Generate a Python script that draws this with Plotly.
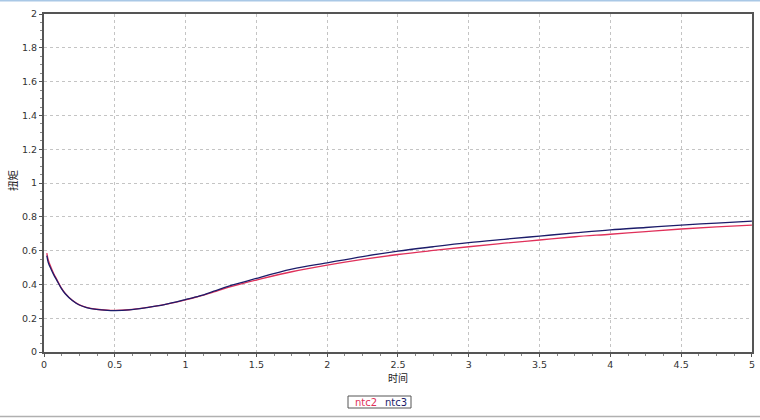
import plotly.graph_objects as go

# ---- data ----
time = [0.02, 0.03, 0.05, 0.07, 0.09, 0.12, 0.15, 0.2, 0.25, 0.3, 0.37, 0.45, 0.5,
        0.6, 0.72, 0.85, 1.0, 1.1, 1.2, 1.3, 1.4, 1.5, 1.75, 2.0, 2.25, 2.5, 2.75,
        3.0, 3.25, 3.5, 3.75, 4.0, 4.25, 4.5, 4.75, 5.0]
ntc2 = [0.585, 0.545, 0.50, 0.462, 0.43, 0.383, 0.347, 0.306, 0.279, 0.264, 0.253,
        0.247, 0.246, 0.25, 0.262, 0.28, 0.308, 0.33, 0.356, 0.382, 0.405, 0.426,
        0.475, 0.514, 0.548, 0.577, 0.601, 0.623, 0.644, 0.663, 0.682, 0.697,
        0.713, 0.728, 0.74, 0.751]
ntc3 = [0.57, 0.53, 0.49, 0.455, 0.425, 0.38, 0.345, 0.305, 0.278, 0.263, 0.252,
        0.246, 0.245, 0.249, 0.262, 0.28, 0.31, 0.332, 0.36, 0.388, 0.412, 0.436,
        0.49, 0.528, 0.565, 0.597, 0.623, 0.647, 0.667, 0.686, 0.705, 0.723,
        0.737, 0.751, 0.763, 0.775]
series_names = ["ntc2", "ntc3"]
series_colors = ["#e0305a", "#1c1c6a"]
x_ticks = [0, 0.5, 1, 1.5, 2, 2.5, 3, 3.5, 4, 4.5, 5]
x_tick_labels = ["0", "0.5", "1", "1.5", "2", "2.5", "3", "3.5", "4", "4.5", "5"]
y_ticks = [0, 0.2, 0.4, 0.6, 0.8, 1.0, 1.2, 1.4, 1.6, 1.8, 2.0]
y_tick_labels = ["0", "0.2", "0.4", "0.6", "0.8", "1", "1.2", "1.4", "1.6", "1.8", "2"]
x_title = "时间"
y_title = "扭矩"

fig = go.Figure()
for name, ys, col in zip(series_names, [ntc2, ntc3], series_colors):
    fig.add_trace(go.Scatter(x=time, y=ys, mode="lines", name=name,
                             line=dict(color=col, width=1.3, shape="spline"),
                             showlegend=False))

tick_font = dict(family="DejaVu Sans, Verdana, sans-serif", size=9.5, color="#333333")
cjk = "Noto Sans CJK SC"

axis_common = dict(
    showline=True, linecolor="#555555", linewidth=2, mirror=True,
    showgrid=True, gridcolor="#c4c4c4", griddash="dot", gridwidth=1,
    zeroline=False, ticks="outside", ticklen=3, tickcolor="#555555",
    tickfont=tick_font, automargin=False,
)
fig.update_xaxes(range=[0, 5.0005], tickvals=x_ticks, ticktext=x_tick_labels,
                 minor=dict(dtick=0.125, ticks="outside", ticklen=2, tickcolor="#888888", showgrid=False),
                 **axis_common)
fig.update_yaxes(range=[0, 2.0005], tickvals=y_ticks, ticktext=y_tick_labels,
                 minor=dict(dtick=0.05, ticks="outside", ticklen=2, tickcolor="#888888", showgrid=False),
                 **axis_common)

L, R, T, B = 44, 8, 14, 68
W, H = 760, 420
pw, ph = W - L - R, H - T - B
def px(x): return (x - L) / pw
def py(y): return (H - B - y) / ph

# axis titles
fig.add_annotation(xref="paper", yref="paper", x=px(398), y=py(368.5), text=x_title, showarrow=False,
                   borderpad=0, font=dict(family=cjk, size=10, color="#222222"),
                   xanchor="center", yanchor="top")
fig.add_annotation(xref="paper", yref="paper", x=px(12), y=py(181), text=y_title, showarrow=False,
                   textangle=-90, font=dict(family=cjk, size=10.5, color="#222222"),
                   xanchor="center", yanchor="middle")

# custom text-only legend (as in the reference)
fig.add_shape(type="rect", xref="paper", yref="paper",
              x0=px(348), x1=px(411), y0=py(408), y1=py(396),
              line=dict(color="#555555", width=1), fillcolor="white")
for name, col, cx in zip(series_names, series_colors, [365.5, 396]):
    fig.add_annotation(xref="paper", yref="paper", x=px(cx), y=py(402), text=name,
                       showarrow=False, font=dict(family="DejaVu Sans, sans-serif", size=10, color=col),
                       xanchor="center", yanchor="middle")

# window frame lines
fig.add_shape(type="line", xref="paper", yref="paper", x0=px(0), x1=px(760), y0=py(0.5), y1=py(0.5),
              line=dict(color="#a9c8e6", width=2))
fig.add_shape(type="line", xref="paper", yref="paper", x0=px(0), x1=px(760), y0=py(416.5), y1=py(416.5),
              line=dict(color="#b0b0b0", width=1.5))

fig.update_layout(width=W, height=H, margin=dict(l=L, r=R, t=T, b=B),
                  paper_bgcolor="white", plot_bgcolor="white")
fig.write_html("out.html", config={"displayModeBar": False},
               post_script="document.body.style.margin='0';document.body.style.padding='0';")
